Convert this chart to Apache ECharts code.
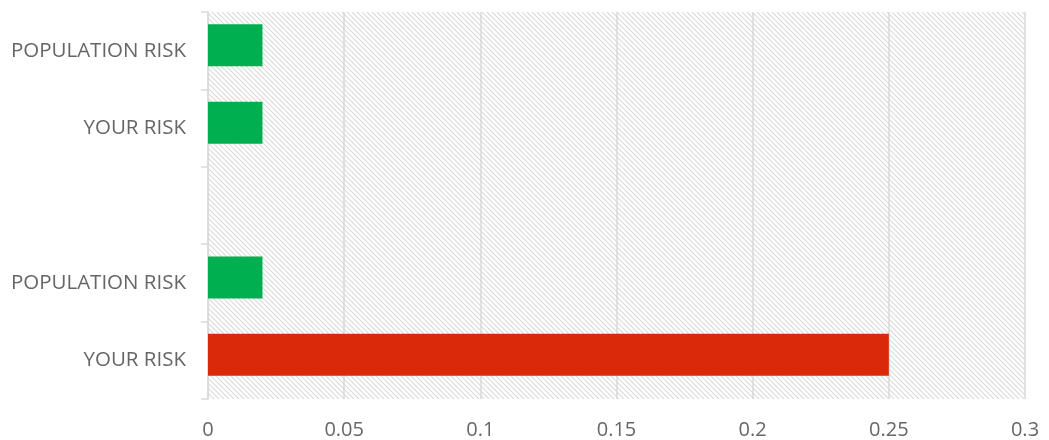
<!DOCTYPE html>
<html>
<head>
<meta charset="utf-8">
<script src="https://cdn.jsdelivr.net/npm/echarts@6/dist/echarts.min.js"></script>
<style>
html,body{margin:0;padding:0;background:#fff;}
#chart{width:1049px;height:440px;}
</style>
</head>
<body>
<div id="chart"></div>
<script>
// Data (bottom to top, as on the category axis)
const categories = ['YOUR RISK', 'POPULATION RISK', '', 'YOUR RISK', 'POPULATION RISK'];
const riskValues = [0.25, 0.02, null, 0.02, 0.02];
const populationRisk = 0.02;
const xTicks = { min: 0, max: 0.3, interval: 0.05 };

// Hatch pattern tile
function makeHatch() {
  const s = 5;
  const c = document.createElement('canvas');
  c.width = s; c.height = s;
  const g = c.getContext('2d');
  g.fillStyle = '#ffffff';
  g.fillRect(0, 0, s, s);
  g.strokeStyle = '#d8d8d8';
  g.lineWidth = 1.05;
  g.beginPath();
  g.moveTo(-1, -1); g.lineTo(s + 1, s + 1);
  g.moveTo(-1, s - 1); g.lineTo(1, s + 1);
  g.moveTo(s - 1, -1); g.lineTo(s + 1, 1);
  g.stroke();
  return c;
}

const chart = echarts.init(document.getElementById('chart'), null, { renderer: 'canvas' });
const font = '"Open Sans", "Liberation Sans", sans-serif';

chart.setOption({
  animation: false,
  grid: {
    left: 208, right: 24, top: 12, bottom: 41,
    show: true,
    borderWidth: 0,
    backgroundColor: { image: makeHatch(), repeat: 'repeat' }
  },
  xAxis: {
    type: 'value',
    min: xTicks.min, max: xTicks.max, interval: xTicks.interval,
    axisLine: { show: false },
    axisTick: { show: false },
    splitLine: { show: true, lineStyle: { color: '#d9d9d9', width: 1.5 } },
    axisLabel: {
      color: '#666666', fontSize: 20, fontFamily: font, margin: 21,
      formatter: v => String(parseFloat(v.toFixed(2)))
    }
  },
  yAxis: {
    type: 'category',
    data: categories,
    axisLine: { show: true, lineStyle: { color: '#d9d9d9', width: 1.5 } },
    axisTick: { show: true, length: 7, lineStyle: { color: '#d9d9d9', width: 1.5 } },
    axisLabel: { color: '#666666', fontSize: 20.5, fontFamily: font, margin: 22 }
  },
  series: [
    {
      type: 'bar',
      data: riskValues,
      barWidth: 42,
      barGap: '-74%',
      itemStyle: {
        color: p => (p.value > populationRisk ? '#d9290a' : '#00b050')
      }
    },
    {
      type: 'bar',
      data: categories.map(() => '-'),
      barWidth: 42,
      silent: true
    }
  ]
});
</script>
</body>
</html>
